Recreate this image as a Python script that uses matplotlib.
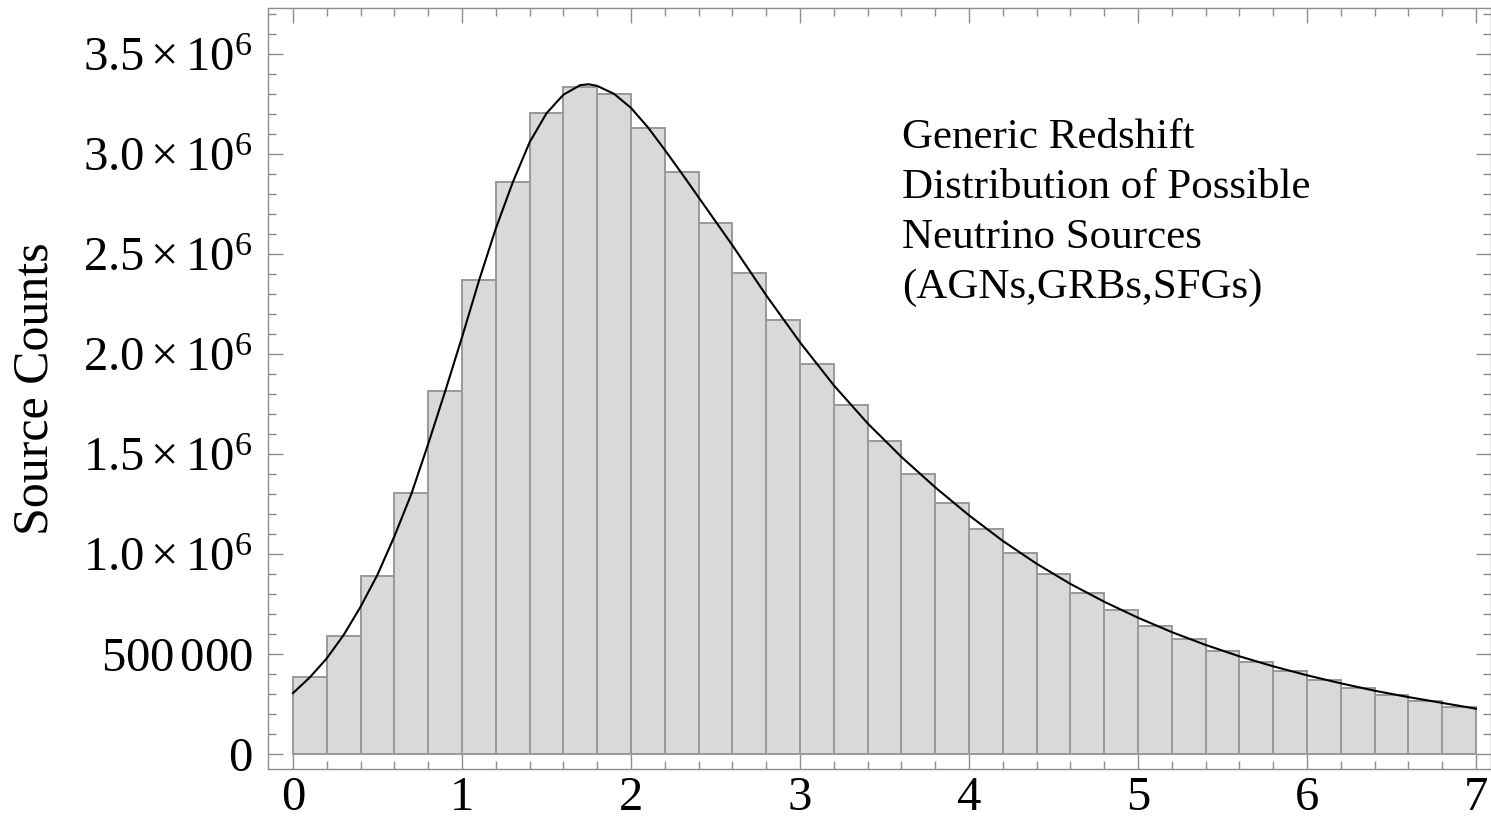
import matplotlib
matplotlib.use("Agg")
import matplotlib.pyplot as plt
import numpy as np
from matplotlib.ticker import FixedLocator, MultipleLocator

# Histogram of source counts per redshift bin (bin width 0.2, from z=0 to z=7)
bin_edges = np.linspace(0.0, 7.0, 36)
counts = [
    386500, 593000, 893000, 1305000, 1816500, 2371000, 2863000, 3208000, 3338000, 3300000,
    3133000, 2910000, 2658000, 2406500, 2171000, 1950000, 1745000, 1565000, 1403000, 1258000,
    1125000, 1006500, 900000, 806500, 720000, 643000, 576500, 516500, 461500, 415000,
    371500, 333000, 296500, 266500, 236500,
]

# Smooth model curve
curve_z = [0.0, 0.1, 0.2, 0.3, 0.4, 0.5, 0.6, 0.7, 0.8, 0.9, 1.0, 1.1, 1.2, 1.3, 1.4, 1.5,
           1.6, 1.7, 1.75, 1.8, 1.9, 2.0, 2.1, 2.2, 2.3, 2.4, 2.6, 2.8, 3.0, 3.2, 3.4, 3.6,
           3.8, 4.0, 4.2, 4.4, 4.6, 4.8, 5.0, 5.2, 5.4, 5.6, 5.8, 6.0, 6.2, 6.4, 6.6, 6.8, 7.0]
curve_n = [306000, 385000, 480000, 597000, 738000, 898000, 1090000, 1301000, 1552000,
           1814000, 2085000, 2367000, 2629000, 2859000, 3060000, 3205000, 3298000, 3346000,
           3350000, 3342000, 3302000, 3232000, 3135000, 3022000, 2905000, 2785000, 2545000,
           2295000, 2060000, 1845000, 1655000, 1487000, 1335000, 1195000, 1067000, 953000,
           852000, 763000, 683000, 611000, 547000, 490000, 440000, 395000, 355000, 318000,
           286000, 257000, 228000]

y_ticks = [0, 500000, 1000000, 1500000, 2000000, 2500000, 3000000, 3500000]
y_tick_labels = [r"$0$", r"$500\,000$", r"$1.0\times10^{6}$", r"$1.5\times10^{6}$",
                 r"$2.0\times10^{6}$", r"$2.5\times10^{6}$", r"$3.0\times10^{6}$",
                 r"$3.5\times10^{6}$"]
x_ticks = [0, 1, 2, 3, 4, 5, 6, 7]

note = "Generic Redshift\nDistribution of Possible\nNeutrino Sources\n(AGNs,GRBs,SFGs)"

plt.rcParams["font.family"] = ["Liberation Serif", "DejaVu Serif"]
plt.rcParams["mathtext.fontset"] = "custom"
plt.rcParams["mathtext.rm"] = "Liberation Serif"
plt.rcParams["mathtext.it"] = "Liberation Serif:italic"
plt.rcParams["mathtext.bf"] = "Liberation Serif:bold"

fig = plt.figure(figsize=(14.91, 8.21), dpi=100)
ax = fig.add_axes([268 / 1491, 1 - 769 / 821, 1 - 268 / 1491, (769 - 8) / 821])

frame_grey = "#8c8c8c"

ax.bar(bin_edges[:-1], counts, width=np.diff(bin_edges), align="edge",
       color="#d9d9d9", edgecolor="#999999", linewidth=1.4, zorder=2)
ax.plot(curve_z, curve_n, color="black", linewidth=1.5, zorder=3)

ax.set_xlim(-0.148, 7.089)
ax.set_ylim(-73500, 3731500)

ax.xaxis.set_major_locator(FixedLocator(x_ticks))
ax.xaxis.set_minor_locator(MultipleLocator(0.2))
ax.set_yticks(y_ticks)
ax.set_yticklabels(y_tick_labels)
ax.yaxis.set_minor_locator(MultipleLocator(100000))

ax.tick_params(which="both", direction="in", top=True, right=True, color=frame_grey,
               width=1.0, labelsize=35)
ax.tick_params(axis="y", pad=11)
ax.tick_params(axis="x", pad=5)
ax.tick_params(which="major", length=10.5)
ax.tick_params(which="minor", length=6)
for s in ax.spines.values():
    s.set_color(frame_grey)
    s.set_linewidth(1.0)

ax.set_ylabel("Source Counts", fontsize=36, va="center")
ax.yaxis.set_label_coords(-0.19, 0.5)

ax.text(3.604, 3.18e6, note, fontsize=31, ha="left", va="top", linespacing=1.39, zorder=4)

fig.savefig("out.png", dpi=100)
